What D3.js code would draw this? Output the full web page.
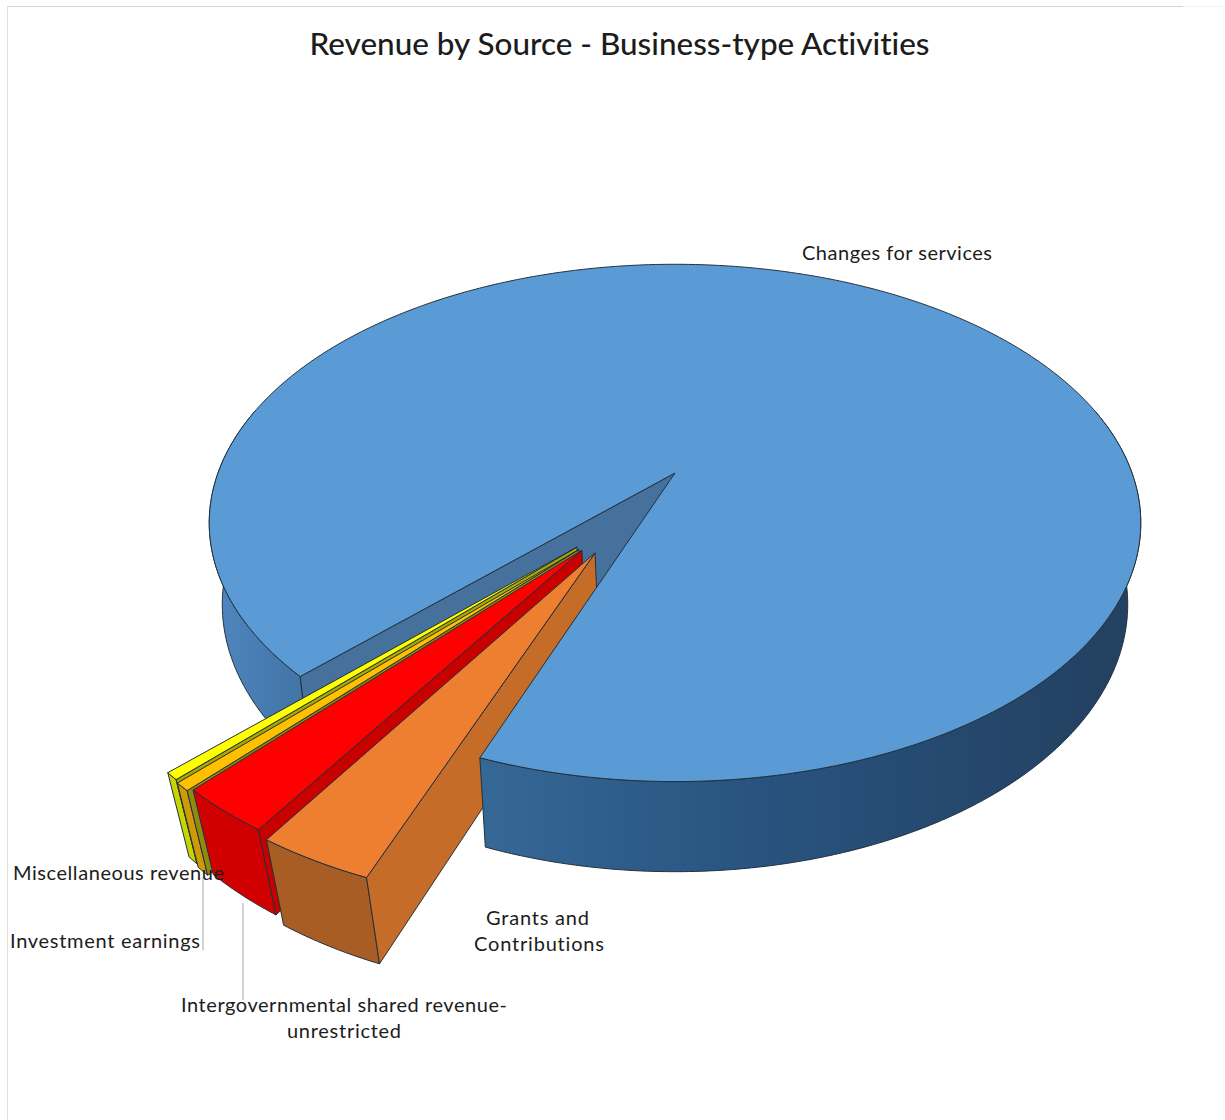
<!DOCTYPE html>
<html>
<head>
<meta charset="utf-8">
<style>
  html, body { margin: 0; padding: 0; background: #fff; }
  svg { display: block; }
  text { font-family: Lato, "Open Sans", sans-serif; fill: #1c1c1c; font-variant-ligatures: none; }
</style>
<script src="https://cdn.jsdelivr.net/npm/d3@7/dist/d3.min.js"></script>
</head>
<body>
<svg id="chart" width="1225" height="1120"></svg>
<script>
// Share of business-type revenue by source, in percent
const sourceNames = [
  "Changes for services",
  "Grants and Contributions",
  "Intergovernmental shared revenue-unrestricted",
  "Investment earnings",
  "Miscellaneous revenue"
];
const sourceShares = [93.16, 3.25, 2.7, 0.47, 0.42];

// Slice colours: top face, outer face, cut face
const topColors = ["#5b9bd5", "#ee7f30", "#ff0000", "#ffc000", "#ffff00"];
const outerColors = ["#2f5c88", "#a85d24", "#d00000", "#d09a06", "#c8d400"];
const cutColors = ["#47719d", "#c46c28", "#c80000", "#8f8a10", "#a8a800"];

// Direction (degrees past 6 o'clock, clockwise) and distance each slice is pulled out
const explodeDegrees = [0, 28.6, 33.3, 34.4, 35.8];
const explodeDistance = [0, 0.344, 0.35, 0.352, 0.347];
// Drawn radius of each slice and how much its lower rim narrows with depth
const sliceRadius = [1, 0.998, 0.98, 0.985, 0.985];
const lowerRimShrink = [0.972, 0.958, 0.958, 0.958, 0.958];

const chartTitle = "Revenue by Source - Business-type Activities";

// Perspective model of the pie: unit disc seen from above and in front
const view = { cx: 675, cy: 473, rx: 457, ry: 249, tilt: 0.193, depth: 82 };

function project(u, v, z, shrink) {
  const s = 1 / (1 - view.tilt * v);
  const k = z ? shrink : 1;
  return [
    view.cx + view.rx * u * s * k,
    view.cy + (view.ry * v + z * view.depth) * s * k
  ];
}

const svg = d3.select("#chart");
const line = d3.line();
const rad = d => d * Math.PI / 180;

// Pie angles run clockwise from 12 o'clock; the first slice starts at lower left
const slices = d3.pie().sort(null)
  .startAngle(rad(225.1))
  .endAngle(rad(225.1 + 360))(sourceShares)
  .map((d, i) => {
    const dir = rad(180 + explodeDegrees[i]);
    return {
      ...d, i,
      r: sliceRadius[i],
      k: lowerRimShrink[i],
      ou: Math.sin(dir) * explodeDistance[i],
      ov: -Math.cos(dir) * explodeDistance[i]
    };
  });

const anglesBetween = (a0, a1) => {
  const n = Math.max(2, Math.ceil(Math.abs(a1 - a0) / rad(0.5)));
  return d3.range(n + 1).map(j => a0 + (a1 - a0) * j / n);
};
const rim = (d, a, z) => project(d.ou + d.r * Math.sin(a), d.ov - d.r * Math.cos(a), z, d.k);
const hub = (d, z) => project(d.ou, d.ov, z, d.k);

const topFace = d => [hub(d, 0), ...anglesBetween(d.startAngle, d.endAngle).map(a => rim(d, a, 0))];
const outerFace = (d, a0, a1) => {
  const as = anglesBetween(a0, a1);
  return [...as.map(a => rim(d, a, 0)), ...as.slice().reverse().map(a => rim(d, a, 1))];
};
// Cut face along the slice's leading radius, the side turned to the viewer
const cutFace = (d, a) => [hub(d, 0), rim(d, a, 0), rim(d, a, 1), hub(d, 1)];

const edge = "#22303c";
function face(points, fill, stroke) {
  return svg.append("path")
    .attr("d", line(points) + "Z")
    .attr("fill", fill)
    .attr("stroke", stroke || edge)
    .attr("stroke-width", 1)
    .attr("stroke-linejoin", "round");
}

// Shading for the outer wall of the large slice
const defs = svg.append("defs");
function wallGradient(id, x1, x2, stops) {
  const g = defs.append("linearGradient")
    .attr("id", id)
    .attr("gradientUnits", "userSpaceOnUse")
    .attr("x1", x1).attr("x2", x2).attr("y1", 0).attr("y2", 0);
  stops.forEach(([o, c]) => g.append("stop").attr("offset", o).attr("stop-color", c));
}
wallGradient("wall-left", 210, 320, [[0, "#4f88c2"], [1, "#3f6f9f"]]);
wallGradient("wall-right", 480, 1140, [[0, "#366896"], [0.35, "#2a5683"], [0.7, "#25496f"], [1, "#23405f"]]);

// Faint edges of the chart area
const frame = [
  { x1: 7.5, y1: 6.5, x2: 7.5, y2: 1120, c: "#dedede" },
  { x1: 7.5, y1: 6.5, x2: 1183, y2: 6.5, c: "#d4d4d4" },
  { x1: 1183, y1: 6.5, x2: 1223, y2: 6.5, c: "#f3f3f3" },
  { x1: 1223.5, y1: 6.5, x2: 1223.5, y2: 1120, c: "#f6f6f6" }
];
svg.selectAll("line.frame").data(frame).join("line")
  .attr("class", "frame")
  .attr("x1", d => d.x1).attr("y1", d => d.y1)
  .attr("x2", d => d.x2).attr("y2", d => d.y2)
  .attr("stroke", d => d.c);

const main = slices[0];
const mainEnd = main.endAngle;

// Walls of the large slice behind the pulled-out slices
face(outerFace(main, main.startAngle, rad(285)), "url(#wall-left)");
face(cutFace(main, main.startAngle), cutColors[0]);

// Pulled-out slices, farthest first
slices.slice(1).reverse().forEach(d => {
  face(outerFace(d, d.startAngle, d.endAngle), outerColors[d.i]);
  face(cutFace(d, d.startAngle), cutColors[d.i]);
  face(topFace(d), topColors[d.i]);
});

// Front wall and top of the large slice
face(outerFace(main, rad(435), mainEnd), "url(#wall-right)");
face(topFace(main), topColors[0]);

// Leader lines
const leaders = [
  { x: 203, y1: 877, y2: 950 },
  { x: 243, y1: 903, y2: 1000 }
];
svg.selectAll("line.leader").data(leaders).join("line")
  .attr("class", "leader")
  .attr("x1", d => d.x).attr("x2", d => d.x)
  .attr("y1", d => d.y1).attr("y2", d => d.y2)
  .attr("stroke", "#a6a6a6");

// Title and labels
svg.append("text")
  .attr("x", 619.5).attr("y", 55)
  .attr("text-anchor", "middle")
  .attr("font-size", 31)
  .attr("font-weight", 500)
  .attr("textLength", 620)
  .attr("lengthAdjust", "spacingAndGlyphs")
  .text(chartTitle);

const labelLines = [
  { text: sourceNames[0], x: 897, y: 260, w: 190 },
  { text: "Grants and", x: 537.5, y: 925, w: 103 },
  { text: "Contributions", x: 539, y: 951, w: 130 },
  { text: "Intergovernmental shared revenue-", x: 344, y: 1012, w: 326 },
  { text: "unrestricted", x: 344, y: 1038, w: 114 },
  { text: sourceNames[3], x: 105, y: 948, w: 190 },
  { text: sourceNames[4], x: 118.5, y: 880, w: 211 }
];
svg.selectAll("text.label").data(labelLines).join("text")
  .attr("class", "label")
  .attr("x", d => d.x).attr("y", d => d.y)
  .attr("text-anchor", "middle")
  .attr("font-size", 20)
  .attr("textLength", d => d.w)
  .attr("lengthAdjust", "spacing")
  .text(d => d.text);
</script>
</body>
</html>
